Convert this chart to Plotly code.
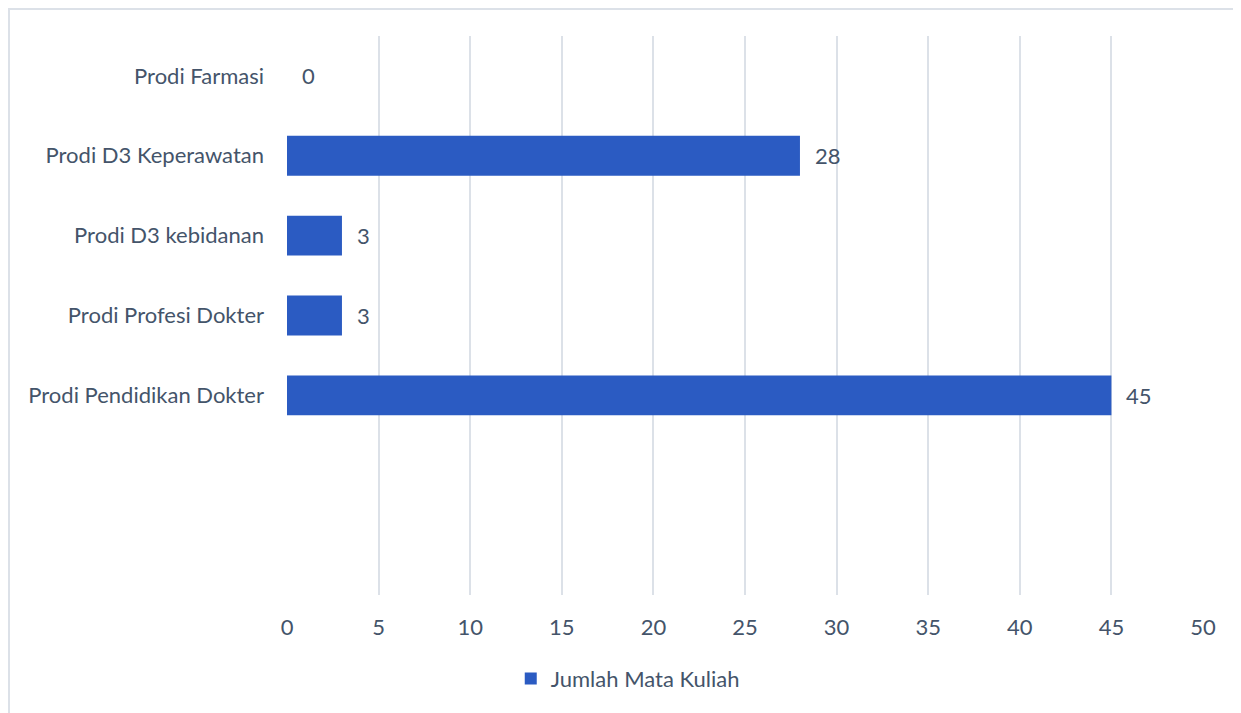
import plotly.graph_objects as go

categories = ["Prodi Pendidikan Dokter", "Prodi Profesi Dokter", "Prodi D3 kebidanan",
              "Prodi D3 Keperawatan", "Prodi Farmasi"]
values = [45, 3, 3, 28, 0]
series_name = "Jumlah Mata Kuliah"
x_ticks = [0, 5, 10, 15, 20, 25, 30, 35, 40, 45, 50]

TEXT = "#44546A"
GRID = "#DCE1E8"
FONT = "Lato"
FS = 22

# page body has an 8px margin; compensate
OFF = 8
W, H = 1241 - OFF, 713 - OFF
L, R, T, B = 287 - OFF, 38, 36 - OFF, 118
pw, ph = W - L - R, H - T - B

fig = go.Figure()
fig.add_trace(go.Bar(
    y=categories, x=values, orientation="h", name=series_name,
    marker=dict(color="#2B5BC2", line=dict(width=0)),
    width=0.5,
))

annotations = [
    dict(x=v, y=c, xref="x", yref="y", text=str(v), showarrow=False,
         xanchor="left", yanchor="middle", xshift=13,
         font=dict(family=FONT, size=FS, color=TEXT))
    for c, v in zip(categories, values)
]

fig.update_layout(
    width=W, height=H,
    margin=dict(l=L, r=R, t=T, b=B, pad=0),
    paper_bgcolor="white", plot_bgcolor="white",
    font=dict(family=FONT, size=FS, color=TEXT),
    showlegend=True,
    legend=dict(orientation="h", x=0.372, xanchor="center", y=-0.112, yanchor="top",
                font=dict(family=FONT, size=FS, color=TEXT), itemwidth=30),
    xaxis=dict(range=[0, 50], tickvals=x_ticks, showgrid=True, gridcolor=GRID, gridwidth=2,
               zeroline=False, showline=False, ticks="", ticklabelstandoff=17,
               tickfont=dict(family=FONT, size=FS, color=TEXT)),
    yaxis=dict(type="category", categoryorder="array", categoryarray=categories,
               range=[-2.5, 4.5], showgrid=False, zeroline=False, showline=False,
               ticks="", ticklabelstandoff=22,
               tickfont=dict(family=FONT, size=FS, color=TEXT)),
    annotations=annotations,
    shapes=[
        dict(type="line", xref="paper", yref="paper",
             x0=(1 - L) / pw, x1=(1 - L) / pw, y0=1 + (T + 1) / ph, y1=-(B + 10) / ph,
             line=dict(color=GRID, width=2)),
        dict(type="line", xref="paper", yref="paper",
             x0=(1 - L) / pw, x1=1 + (R + 10) / pw, y0=1 + (T - 1) / ph, y1=1 + (T - 1) / ph,
             line=dict(color=GRID, width=2)),
    ],
)

fig.write_html("out.html")
